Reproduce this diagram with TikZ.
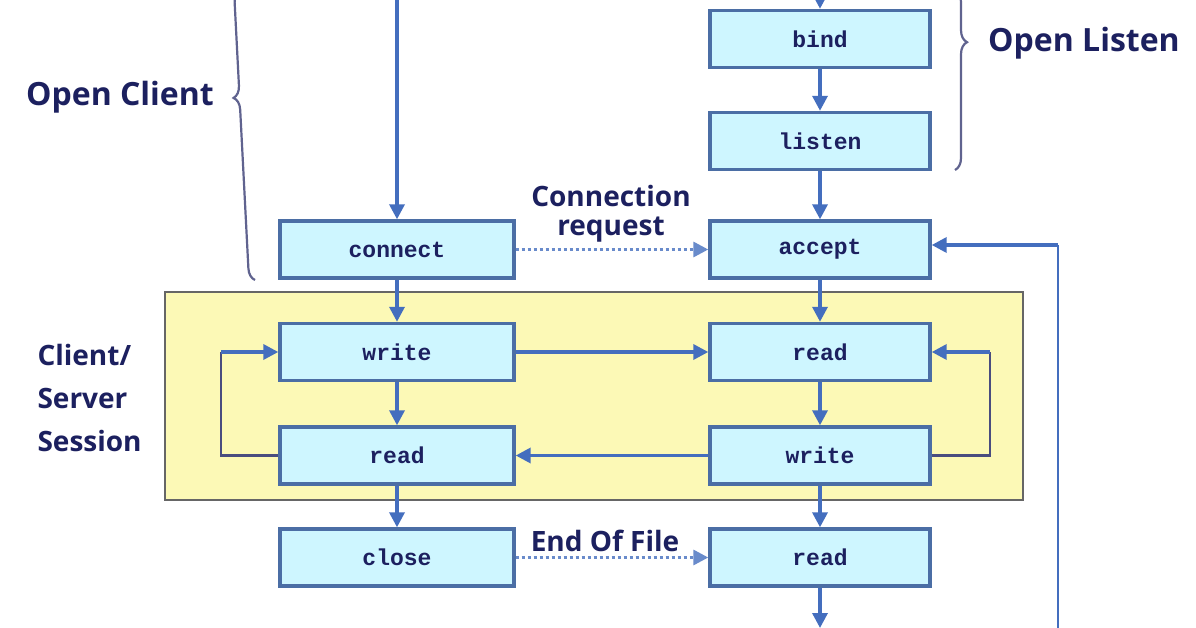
\documentclass[tikz,border=0pt]{standalone}
\usepackage{fontspec}
\setmainfont{Open Sans}
\newfontfamily\monof{Liberation Mono}
\usetikzlibrary{arrows.meta,decorations.pathreplacing}
\definecolor{boxfill}{RGB}{206,246,255}
\definecolor{boxline}{RGB}{75,110,165}
\definecolor{arr}{RGB}{68,110,190}
\definecolor{navy}{RGB}{28,32,95}
\definecolor{yel}{RGB}{252,249,182}
\begin{document}
\begin{tikzpicture}[x=1pt,y=-1pt,
  box/.style={draw=boxline,line width=3.4pt,fill=boxfill,minimum height=57pt,inner sep=0pt,font=\monof\bfseries\fontsize{23}{26}\selectfont,text=navy},
  lb/.style={minimum width=234pt},
  rb/.style={minimum width=220pt},
  ar/.style={draw=arr,line width=3.4pt,-{Triangle[length=15pt,width=15pt]}},
  dt/.style={draw=arr!80,line width=3.2pt,dash pattern=on 3pt off 3pt,-{Triangle[length=15pt,width=15pt]}},
  ln/.style={draw=navy!80,line width=2.6pt},
  lab/.style={text=navy,font=\bfseries\fontsize{32}{36}\selectfont},
  br/.style={draw=navy!70,line width=2.2pt,decorate}]
\useasboundingbox (0,0) rectangle (1196,628);
\fill[white] (0,0) rectangle (1196,628);
\draw[fill=yel,draw=gray!80!black,line width=2.8pt] (165,292) rectangle (1023,500);
\node[box,rb] (bind) at (820,39) {bind};
\node[box,rb] (listen) at (820,141) {listen};
\node[box,lb] (connect) at (397,249.5) {connect};
\node[box,rb] (accept) at (820,249.5) {accept};
\node[box,lb] (cw) at (397,352) {write};
\node[box,rb] (sr) at (820,352) {read};
\node[box,lb] (cr) at (397,455.5) {read};
\node[box,rb] (sw) at (820,455.5) {write};
\node[box,lb] (close) at (397,557.5) {close};
\node[box,rb] (sr2) at (820,557.5) {read};
\coordinate (ctop) at (397,0);
\coordinate (btop) at (820,0);
\coordinate (bot) at (820,628);
\coordinate (rr) at (1058,628);
\draw[ar] (ctop) -- (connect);
\draw[ar] (btop) -- (bind);
\draw[ar] (bind) -- (listen);
\draw[ar] (listen) -- (accept);
\draw[ar] (connect) -- (cw);
\draw[ar] (accept) -- (sr);
\draw[ar] (cw) -- (cr);
\draw[ar] (sr) -- (sw);
\draw[ar] (cr) -- (close);
\draw[ar] (sw) -- (sr2);
\draw[ar] (sr2) -- (bot);
\draw[ar] (cw) -- (sr);
\draw[ar] (sw) -- (cr);
\draw[dt] (connect) -- (accept);
\draw[dt] (close) -- (sr2);
\draw[ln] (cr.west) -- (221,455.5) -- (221,352);
\draw[ar] (221,352) -- (cw.west);
\draw[ln] (sw.east) -- (990,455.5) -- (990,352);
\draw[ar] (990,352) -- (sr.east);
\draw[ln,draw=arr] (rr) -- (1058,245);
\draw[ar] (1058,245) -- (accept.east |- 0,245);
\node[text=navy,font=\bfseries\fontsize{28}{29}\selectfont,align=center] (cr1) at (611,214) {Connection\\request};
\node[text=navy,font=\bfseries\fontsize{28}{29}\selectfont] (eof) at (605,541) {End Of File};
\node[lab] (oc) at (120,97) {Open Client};
\node[lab] (ol) at (1084,43) {Open Listen};
\node[lab,anchor=west,align=left,font=\bfseries\fontsize{28}{43}\selectfont] (css) at (34,398) {Client/\\Server\\Session};
\draw[br,decoration={brace,amplitude=12pt,aspect=0.63}] (255,280) -- (240,-10);
\draw[br,decoration={brace,amplitude=12pt,aspect=0.29}] (955,-10) -- (955,170);
\end{tikzpicture}
\end{document}
